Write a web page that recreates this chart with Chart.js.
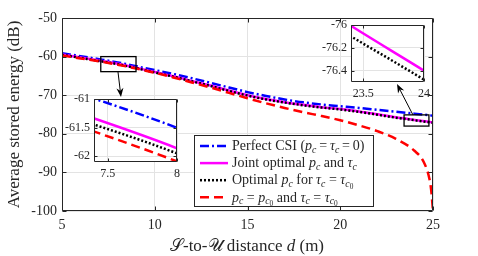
<!DOCTYPE html>
<html>
<head>
<meta charset="utf-8">
<script src="https://cdn.jsdelivr.net/npm/chart.js@4.4.1/dist/chart.umd.min.js"></script>
<style>
  html, body { margin: 0; padding: 0; background: #fff; }
  #wrap { position: relative; width: 478px; height: 256px; }
  #wrap canvas { position: absolute; }
</style>
</head>
<body>
<div id="wrap">
  <canvas id="mainChart" width="478" height="256" style="left:0;top:0"></canvas>
  <canvas id="zoomA" width="130" height="96" style="left:55px;top:88px"></canvas>
  <canvas id="zoomB" width="140" height="92" style="left:295px;top:14px"></canvas>
</div>
<script>
/* average stored energy vs S-to-U distance */

// distance d (m)
const distance = [5, 6, 7, 8, 9, 10, 11, 12, 13, 14, 15, 16, 17, 18, 19, 20, 21, 22, 23, 24, 25];
const distanceFixed = [5, 6, 7, 8, 9, 10, 11, 12, 13, 14, 15, 16, 17, 18, 19, 20, 21, 22, 23, 24, 24.5, 24.8, 24.9, 25];

// stored energy (dB)
const perfectCsi = [-59.1, -59.9, -60.67, -61.5, -62.5, -63.5, -64.5, -65.6, -66.8, -68.0, -69.2, -70.2, -71.1, -71.85, -72.4, -72.85, -73.3, -73.8, -74.3, -74.8, -75.3];
const jointOpt   = [-59.45, -60.23, -61.01, -61.86, -62.9, -64.0, -65.1, -66.3, -67.5, -68.8, -70.0, -71.0, -71.8, -72.5, -73.1, -73.6, -74.2, -74.95, -75.73, -76.4, -77.05];
const optPc      = [-59.55, -60.34, -61.13, -61.95, -63.0, -64.1, -65.2, -66.4, -67.6, -68.9, -70.1, -71.1, -71.9, -72.6, -73.2, -73.7, -74.3, -75.05, -75.83, -76.48, -77.15];
const fixedPc    = [-59.7, -60.47, -61.24, -62.09, -63.1, -64.2, -65.4, -66.7, -68.0, -69.4, -70.8, -72.1, -73.3, -74.4, -75.4, -76.5, -77.8, -79.3, -81.3, -84.4, -87.3, -91.5, -94.5, -100];

// ticks
const xTicks = [5, 10, 15, 20, 25];
const yTicks = [-50, -60, -70, -80, -90, -100];
const zoomAxTicks = [7.5, 8];
const zoomAyTicks = [-61, -61.5, -62];
const zoomBxTicks = [23.5, 24];
const zoomByTicks = [-76, -76.2, -76.4];

const FONT = "'Liberation Serif', 'DejaVu Serif', serif";
const INK = '#262626';
const GRID = '#e3e3e3';

// legend entries: [text, style]  r=roman i=italic s=subscript z=sub-subscript
const LEGEND = [
  [['Perfect CSI (', 'r'], ['p', 'i'], ['c', 's'], ['\u2009=\u2009', 'r'], ['τ', 'i'], ['c', 's'], ['\u2009=\u20090)', 'r']],
  [['Joint optimal ', 'r'], ['p', 'i'], ['c', 's'], [' and ', 'r'], ['τ', 'i'], ['c', 's']],
  [['Optimal ', 'r'], ['p', 'i'], ['c', 's'], [' for ', 'r'], ['τ', 'i'], ['c', 's'], [' = ', 'r'], ['τ', 'i'], ['c', 's'], ['0', 'z']],
  [['p', 'i'], ['c', 's'], [' = ', 'r'], ['p', 'i'], ['c', 's'], ['0', 'z'], [' and ', 'r'], ['τ', 'i'], ['c', 's'], [' = ', 'r'], ['τ', 'i'], ['c', 's'], ['0', 'z']],
];
const X_TITLE = [['𝒮-to-𝒰 distance ', 'r'], ['d', 'i'], [' (m)', 'r']];

function pts(xs, ys) {
  return xs.map((x, i) => ({ x: x, y: ys[i] }));
}

function makeDatasets() {
  return [
    { data: pts(distance, perfectCsi), borderColor: '#0000ff', borderDash: [9, 3, 2, 3], order: 3 },
    { data: pts(distance, jointOpt), borderColor: '#ff00ff', order: 2 },
    { data: pts(distance, optPc), borderColor: '#000000', borderDash: [2, 2], order: 1 },
    { data: pts(distanceFixed, fixedPc), borderColor: '#ff0000', borderDash: [9, 5], order: 0 },
  ];
}

function drawRich(ctx, segs, x, y, size, align) {
  const spec = { r: [1, 0, ''], i: [1, 0, 'italic '], s: [0.7, 0.2, 'italic '], z: [0.52, 0.32, ''] };
  const font = st => spec[st][2] + (size * spec[st][0]).toFixed(1) + 'px ' + FONT;
  let w = 0;
  segs.forEach(([t, st]) => { ctx.font = font(st); w += ctx.measureText(t).width; });
  let cx = align === 'center' ? x - w / 2 : x;
  ctx.textAlign = 'left';
  ctx.textBaseline = 'alphabetic';
  const base = y + size * 0.3;
  segs.forEach(([t, st]) => {
    ctx.font = font(st);
    ctx.fillText(t, cx, base + size * spec[st][1]);
    cx += ctx.measureText(t).width;
  });
}

const framePlugin = {
  id: 'frame',
  beforeDraw(chart, args, o) {
    if (!o.fill) return;
    const a = chart.chartArea, ctx = chart.ctx;
    ctx.save();
    ctx.fillStyle = o.fill;
    ctx.fillRect(a.left, a.top, a.right - a.left, a.bottom - a.top);
    ctx.restore();
  },
  afterDraw(chart, args, o) {
    const { ctx, chartArea: a, scales: { x, y } } = chart;
    const L = Math.round(a.left) + 0.5, R = Math.round(a.right) - 0.5;
    const T = Math.round(a.top) + 0.5, B = Math.round(a.bottom) - 0.5;
    const t = o.tick || 4;
    ctx.save();
    ctx.strokeStyle = INK;
    ctx.lineWidth = 1;
    ctx.beginPath();
    ctx.rect(L, T, R - L, B - T);
    x.ticks.forEach(k => {
      const p = Math.round(x.getPixelForValue(k.value)) + 0.5;
      ctx.moveTo(p, B); ctx.lineTo(p, B - t);
      ctx.moveTo(p, T); ctx.lineTo(p, T + t);
    });
    y.ticks.forEach(k => {
      const p = Math.round(y.getPixelForValue(k.value)) + 0.5;
      ctx.moveTo(L, p); ctx.lineTo(L + t, p);
      ctx.moveTo(R, p); ctx.lineTo(R - t, p);
    });
    ctx.stroke();
    ctx.restore();
  }
};

function arrow(ctx, x0, y0, x1, y1) {
  const ang = Math.atan2(y1 - y0, x1 - x0), len = 9, hw = 3.5;
  const c = Math.cos(ang), s = Math.sin(ang);
  ctx.beginPath();
  ctx.moveTo(x0, y0);
  ctx.lineTo(x1 - c * len * 0.7, y1 - s * len * 0.7);
  ctx.stroke();
  ctx.beginPath();
  ctx.moveTo(x1, y1);
  ctx.lineTo(x1 - c * len + s * hw, y1 - s * len - c * hw);
  ctx.lineTo(x1 - c * len * 0.7, y1 - s * len * 0.7);
  ctx.lineTo(x1 - c * len - s * hw, y1 - s * len + c * hw);
  ctx.closePath();
  ctx.fill();
}

const calloutPlugin = {
  id: 'callout',
  afterDatasetsDraw(chart) {
    const { ctx, scales: { x, y } } = chart;
    ctx.save();
    ctx.strokeStyle = '#000';
    ctx.fillStyle = '#000';
    ctx.lineWidth = 1.3;
    // zoom boxes (x0, x1, y0, y1 in data units)
    [[7.09, 8.99, -60.0, -63.9], [23.44, 24.78, -75.1, -78.0]].forEach(b => {
      const x0 = x.getPixelForValue(b[0]), x1 = x.getPixelForValue(b[1]);
      const y0 = y.getPixelForValue(b[2]), y1 = y.getPixelForValue(b[3]);
      ctx.strokeRect(x0, y0, x1 - x0, y1 - y0);
    });
    ctx.lineWidth = 1;
    arrow(ctx, 118, 72, 121, 97);
    arrow(ctx, 413, 115, 397, 84);

    // legend
    const lx = 194, ly = 135, lw = 179, lh = 71;
    ctx.fillStyle = '#fff';
    ctx.fillRect(lx, ly, lw, lh);
    ctx.strokeStyle = INK;
    ctx.strokeRect(lx + 0.5, ly + 0.5, lw, lh);
    const ds = chart.data.datasets;
    LEGEND.forEach((segs, i) => {
      const cy = 146 + i * 17.1;
      ctx.save();
      ctx.strokeStyle = ds[i].borderColor;
      ctx.lineWidth = 2.5;
      ctx.setLineDash(ds[i].borderDash || []);
      ctx.beginPath();
      ctx.moveTo(200, cy);
      ctx.lineTo(228, cy);
      ctx.stroke();
      ctx.restore();
      ctx.fillStyle = INK;
      drawRich(ctx, segs, 232, cy, 14, 'left');
    });

    // x axis title
    ctx.fillStyle = INK;
    drawRich(ctx, X_TITLE, 247, 246, 17, 'center');
    ctx.restore();
  }
};

function tickSetter(values) {
  return s => { s.ticks = values.map(v => ({ value: v })); };
}

function axisOpts(min, max, ticks, size, fontSize, pad, extra) {
  return Object.assign({
    type: 'linear',
    min: min,
    max: max,
    afterBuildTicks: tickSetter(ticks),
    afterFit: s => { if (s.isHorizontal()) s.height = size; else s.width = size; },
    grid: { color: GRID, drawTicks: false },
    border: { display: false },
    ticks: {
      color: INK, padding: pad, maxRotation: 0,
      font: { family: FONT, size: fontSize },
      callback: v => String(Math.round(v * 100) / 100)
    }
  }, extra || {});
}

const BASE = {
  responsive: false,
  animation: false,
  events: [],
  plugins: { legend: { display: false }, tooltip: { enabled: false } },
  elements: {
    point: { radius: 0 },
    line: { borderWidth: 2.5, cubicInterpolationMode: 'monotone', borderCapStyle: 'butt' }
  }
};

new Chart(document.getElementById('mainChart'), {
  type: 'line',
  data: { datasets: makeDatasets() },
  plugins: [framePlugin, calloutPlugin],
  options: {
    ...BASE,
    layout: { padding: { left: 0, right: 45, top: 18, bottom: 0 } },
    plugins: { ...BASE.plugins, frame: { tick: 4 } },
    scales: {
      x: axisOpts(5, 25, xTicks, 45, 14, 6),
      y: axisOpts(-100, -50, yTicks, 62, 14, 5, {
        title: { display: true, text: 'Average stored energy (dB)', color: INK, font: { family: FONT, size: 17 }, padding: { top: 4, bottom: 0 } }
      })
    }
  }
});

// zoom 1: around d = 7.4 .. 8
new Chart(document.getElementById('zoomA'), {
  type: 'line',
  data: { datasets: makeDatasets() },
  plugins: [framePlugin],
  options: {
    ...BASE,
    layout: { padding: { left: 0, right: 5, top: 10, bottom: 0 } },
    plugins: { ...BASE.plugins, frame: { tick: 3, fill: '#fff' } },
    scales: {
      x: axisOpts(7.4, 8, zoomAxTicks, 22, 12, 5),
      y: axisOpts(-62.1, -61, zoomAyTicks, 39, 12, 4)
    }
  }
});

// zoom 2: around d = 23.4 .. 24
new Chart(document.getElementById('zoomB'), {
  type: 'line',
  data: { datasets: makeDatasets() },
  plugins: [framePlugin],
  options: {
    ...BASE,
    layout: { padding: { left: 0, right: 11, top: 11, bottom: 0 } },
    plugins: { ...BASE.plugins, frame: { tick: 3, fill: '#fff' } },
    scales: {
      x: axisOpts(23.4, 24, zoomBxTicks, 24, 12, 5),
      y: axisOpts(-76.5, -76, zoomByTicks, 56, 12, 4)
    }
  }
});
</script>
</body>
</html>
